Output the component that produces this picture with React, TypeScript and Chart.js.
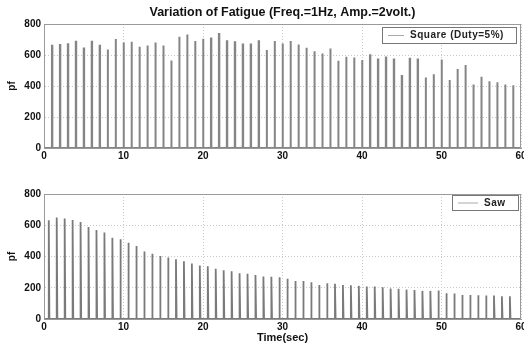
import React, { useEffect, useRef } from "react";
import { Chart, registerables } from "chart.js";

Chart.register(...registerables);

const squareTimes = [1,2,3,4,5,6,7,8,9,10,11,12,13,14,15,16,17,18,19,20,21,22,23,24,25,26,27,28,29,30,31,32,33,34,35,36,37,38,39,40,41,42,43,44,45,46,47,48,49,50,51,52,53,54,55,56,57,58,59];
const squarePeaks = [660,664,670,686,642,686,660,636,703,681,686,653,662,681,662,565,718,733,690,705,707,735,688,683,668,668,688,632,690,675,690,668,647,625,610,642,563,589,584,567,599,571,584,571,464,576,571,455,476,571,438,509,535,410,459,431,425,410,405];

const sawTimes = [0.6,1.6,2.6,3.6,4.6,5.6,6.6,7.6,8.6,9.6,10.6,11.6,12.6,13.6,14.6,15.6,16.6,17.6,18.6,19.6,20.6,21.6,22.6,23.6,24.6,25.6,26.6,27.6,28.6,29.6,30.6,31.6,32.6,33.6,34.6,35.6,36.6,37.6,38.6,39.6,40.6,41.6,42.6,43.6,44.6,45.6,46.6,47.6,48.6,49.6,50.6,51.6,52.6,53.6,54.6,55.6,56.6,57.6,58.6];
const sawPeaks = [632,649,643,634,621,589,570,553,520,510,488,467,432,417,404,394,383,370,355,342,338,321,312,306,293,289,282,272,270,267,257,244,244,235,218,229,225,218,216,212,208,208,203,195,193,188,186,180,180,182,165,163,154,154,152,150,150,146,146];

const xTicks = [0, 10, 20, 30, 40, 50, 60];
const yTicks = [0, 200, 400, 600, 800];

const titleText = "Variation of Fatigue (Freq.=1Hz, Amp.=2volt.)";
const squareLabel = "Square (Duty=5%)";
const sawLabel = "Saw";
const xTitle = "Time(sec)";
const yTitle = "pf";

const FONT = "'Liberation Sans', Arial, sans-serif";

function pulses(times: number[], peaks: number[], width: number, saw: boolean) {
  const pts: { x: number; y: number }[] = [{ x: 0, y: 0 }];
  times.forEach((t, i) => {
    pts.push({ x: t, y: 0 });
    pts.push({ x: t, y: peaks[i] });
    if (!saw) pts.push({ x: t + width, y: peaks[i] });
    pts.push({ x: t + width, y: 0 });
  });
  pts.push({ x: 60, y: 0 });
  return pts;
}

const framePlugin = {
  id: "frame",
  afterDraw(chart: any) {
    const { ctx, chartArea: a } = chart;
    ctx.save();
    ctx.strokeStyle = "#9a9a9a";
    ctx.lineWidth = 1;
    ctx.strokeRect(a.left + 0.5, a.top + 0.5, a.right - a.left - 1, a.bottom - a.top);
    ctx.restore();
  },
};

function legendPlugin(label: string, box: { x: number; y: number; w: number; h: number }, lineLen: number) {
  return {
    id: "customLegend",
    afterDraw(chart: any) {
      const { ctx } = chart;
      ctx.save();
      ctx.fillStyle = "#ffffff";
      ctx.fillRect(box.x, box.y, box.w, box.h);
      ctx.strokeStyle = "#777";
      ctx.lineWidth = 1;
      ctx.strokeRect(box.x + 0.5, box.y + 0.5, box.w, box.h);
      const cy = box.y + box.h / 2 + 0.5;
      ctx.strokeStyle = "#aaa";
      ctx.beginPath();
      ctx.moveTo(box.x + 6, cy);
      ctx.lineTo(box.x + 6 + lineLen, cy);
      ctx.stroke();
      ctx.fillStyle = "#222";
      ctx.font = `bold 10px ${FONT}`;
      (ctx as any).letterSpacing = "0.5px";
      ctx.textBaseline = "middle";
      ctx.textAlign = "left";
      ctx.fillText(label, box.x + lineLen + 12, cy);
      ctx.restore();
    },
  };
}

function makeOptions(opts: { title?: boolean; xTitle?: boolean; xHeight: number; topPad: number }) {
  return {
    responsive: false,
    animation: false as const,
    layout: { padding: { left: 0, right: 3, top: opts.topPad, bottom: 0 } },
    plugins: {
      legend: { display: false },
      tooltip: { enabled: false },
      title: {
        display: !!opts.title,
        text: titleText,
        color: "#111",
        fullSize: false,
        font: { family: FONT, size: 12.5, weight: "bold" as const, lineHeight: 1.2 },
        padding: { top: 5, bottom: 4 },
      },
    },
    scales: {
      x: {
        type: "linear" as const,
        min: 0,
        max: 60,
        afterBuildTicks(scale: any) {
          scale.ticks = xTicks.map((v) => ({ value: v }));
        },
        afterFit(scale: any) {
          scale.height = opts.xHeight;
          scale.paddingLeft = 0;
          scale.paddingRight = 0;
        },
        ticks: {
          color: "#111",
          padding: 2,
          maxRotation: 0,
          font: { family: FONT, size: 10, weight: "bold" as const },
        },
        grid: { color: "#c8c8c8", drawTicks: false, lineWidth: 1 },
        border: { display: true, color: "#9a9a9a", dash: [1, 2] },
        title: {
          display: !!opts.xTitle,
          text: xTitle,
          color: "#111",
          font: { family: FONT, size: 11, weight: "bold" as const, lineHeight: 1.2 },
          padding: { top: 0, bottom: 1.5 },
        },
      },
      y: {
        type: "linear" as const,
        min: 0,
        max: 800,
        afterBuildTicks(scale: any) {
          scale.ticks = yTicks.map((v) => ({ value: v }));
        },
        afterFit(scale: any) {
          scale.width = 44;
          scale.paddingTop = 0;
          scale.paddingBottom = 0;
        },
        ticks: {
          color: "#111",
          padding: 3,
          font: { family: FONT, size: 10, weight: "bold" as const },
        },
        grid: { color: "#c8c8c8", drawTicks: false, lineWidth: 1 },
        border: { display: true, color: "#9a9a9a", dash: [1, 2] },
        title: {
          display: true,
          text: yTitle,
          color: "#111",
          font: { family: FONT, size: 10, weight: "bold" as const, lineHeight: 1.2 },
          padding: { top: 6, bottom: 0 },
        },
      },
    },
  };
}

export default function App() {
  const topRef = useRef<HTMLCanvasElement>(null);
  const botRef = useRef<HTMLCanvasElement>(null);

  useEffect(() => {
    const top = new Chart(topRef.current!, {
      type: "line",
      data: {
        datasets: [
          {
            label: squareLabel,
            data: pulses(squareTimes, squarePeaks, 0.05, false),
            borderColor: "#858585",
            borderWidth: 2,
            pointRadius: 0,
            tension: 0,
          },
        ],
      },
      options: makeOptions({ title: true, xHeight: 22, topPad: 0 }) as any,
      plugins: [framePlugin, legendPlugin(squareLabel, { x: 382, y: 27, w: 134, h: 16 }, 16)],
    });
    const bot = new Chart(botRef.current!, {
      type: "line",
      data: {
        datasets: [
          {
            label: sawLabel,
            data: pulses(sawTimes, sawPeaks, 0.08, true),
            borderColor: "#7a7a7a",
            borderWidth: 1.8,
            pointRadius: 0,
            tension: 0,
          },
        ],
      },
      options: makeOptions({ xTitle: true, xHeight: 27, topPad: 24 }) as any,
      plugins: [framePlugin, legendPlugin(sawLabel, { x: 452, y: 25, w: 66, h: 15 }, 20)],
    });
    return () => {
      top.destroy();
      bot.destroy();
    };
  }, []);

  return (
    <div style={{ position: "fixed", left: 0, top: 0, width: 524, height: 346, background: "#fff" }}>
      <canvas ref={topRef} width={524} height={170} style={{ display: "block", width: 524, height: 170 }} />
      <canvas ref={botRef} width={524} height={176} style={{ display: "block", width: 524, height: 176 }} />
    </div>
  );
}
